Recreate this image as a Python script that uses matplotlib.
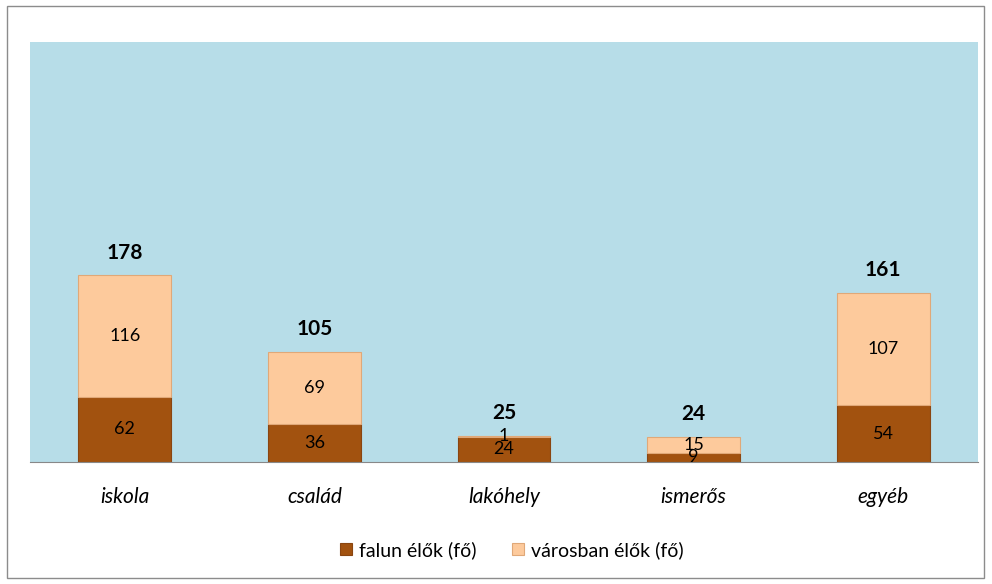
import matplotlib.pyplot as plt
from matplotlib.patches import Rectangle

plt.rcParams['font.family'] = ['Lato', 'DejaVu Sans']

categories = ['iskola', 'család', 'lakóhely', 'ismerős', 'egyéb']
falun = [62, 36, 24, 9, 54]
varosban = [116, 69, 1, 15, 107]
totals = [178, 105, 25, 24, 161]

dark = '#A2520F'
light = '#FDCA9C'

fig = plt.figure(figsize=(9.92, 5.84), dpi=100)
fig.patches.append(Rectangle((7 / 992, 6 / 584), 977 / 992, 572 / 584,
                             transform=fig.transFigure, fill=False,
                             edgecolor='#8c8c8c', linewidth=1))
ax = fig.add_axes([30 / 992, 122 / 584, 948 / 992, 420 / 584])
ax.set_facecolor('#B7DDE8')

x = range(len(categories))
b1 = ax.bar(x, falun, width=0.49, color=dark, edgecolor='#8a4510', linewidth=0.8,
            label='falun élők (fő)')
b2 = ax.bar(x, varosban, width=0.49, bottom=falun, color=light, edgecolor='#e0a878',
            linewidth=0.8, label='városban élők (fő)')

ax.bar_label(b1, label_type='center', fontsize=13)
ax.bar_label(b2, label_type='center', fontsize=13)
for i, t in enumerate(totals):
    ax.annotate(str(t), (i, t), xytext=(0, 9), textcoords='offset points',
                ha='center', va='bottom', fontsize=15, fontweight='bold')

ax.set_xlim(-0.5, 4.5)
ax.set_ylim(0, 400)
ax.set_yticks([])
ax.set_xticks(list(x))
ax.set_xticklabels(categories, fontstyle='italic', fontsize=15)
ax.tick_params(axis='x', length=0, pad=18)
for s in ['top', 'left', 'right']:
    ax.spines[s].set_visible(False)
ax.spines['bottom'].set_color('#888888')

fig.legend(handles=[b1, b2], loc='center', bbox_to_anchor=(512 / 992, 1 - 550 / 584),
           ncol=2, frameon=False, fontsize=14, handlelength=0.6, handleheight=0.6,
           columnspacing=1.8, handletextpad=0.4)

fig.savefig('out.png', dpi=100)
